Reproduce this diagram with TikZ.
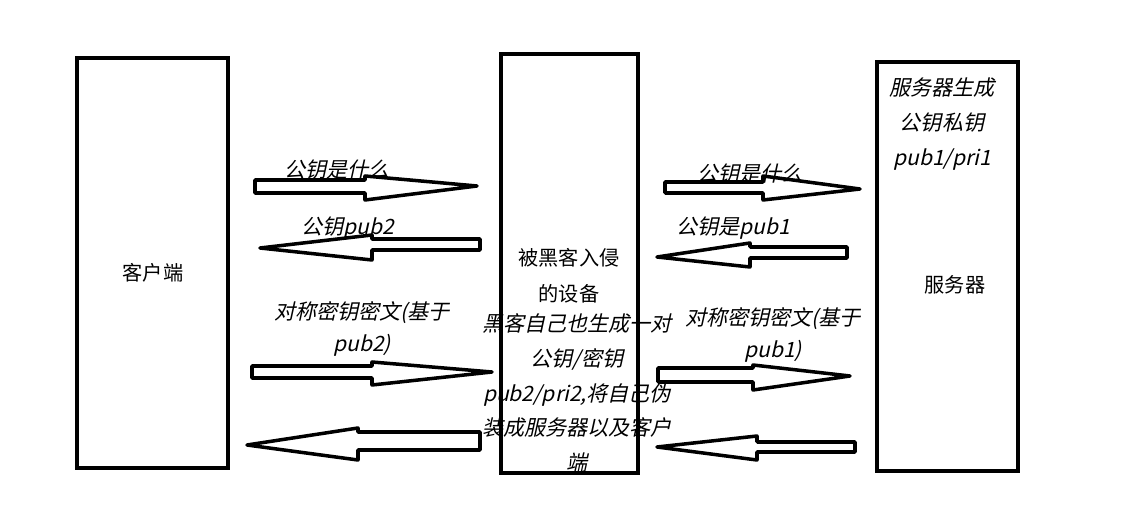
\documentclass[tikz,border=0pt]{standalone}
\usepackage{fontspec}
\setmainfont{Noto Sans CJK SC}
\newfontfamily\cjkit{Noto Sans CJK SC}[FakeSlant=0.22]

\begin{document}
\begin{tikzpicture}[x=0.02cm, y=-0.02cm,
  font=\fontsize{11.5}{20.4}\selectfont,
  box/.style={rectangle, draw, line width=2.3pt},
  fat/.style={draw, line width=2pt, line join=round, fill=white},
  lbl/.style={align=center, inner sep=0pt},
  note/.style={lbl, font=\cjkit\fontsize{12}{19.8}\selectfont},
]
  \useasboundingbox (0,0) rectangle (1137,523);
  % the three parties
  \node[box, minimum width=3.02cm, minimum height=8.2cm] (client) at (152.5,263) {};
  \node[box, minimum width=2.74cm, minimum height=8.38cm] (hacked) at (569.5,263.5) {};
  \node[box, minimum width=2.82cm, minimum height=8.18cm] (server) at (947.5,266.5) {};

  % block arrows, client <-> hacked device
  \draw[fat] (255,180) -- (365,180) -- (365,176) -- (477,186) -- (365,200) -- (365,193) -- (255,193) -- cycle;
  \draw[fat] (480,239) -- (372,239) -- (372,235) -- (260,248) -- (372,260) -- (372,250) -- (480,250) -- cycle;
  \draw[fat] (252,366) -- (372,366) -- (372,362) -- (492,372) -- (372,385) -- (372,378) -- (252,378) -- cycle;
  \draw[fat] (480,432) -- (358,432) -- (358,428) -- (247,445) -- (358,460) -- (358,450) -- (480,450) -- cycle;
  % block arrows, hacked device <-> server
  \draw[fat] (665,182) -- (763,182) -- (763,176) -- (860,189) -- (763,200) -- (763,193) -- (665,193) -- cycle;
  \draw[fat] (847,247) -- (750,247) -- (750,243) -- (657,257) -- (750,267) -- (750,258) -- (847,258) -- cycle;
  \draw[fat] (658,368) -- (753,368) -- (753,365) -- (850,376) -- (753,390) -- (753,382) -- (658,382) -- cycle;
  \draw[fat] (855,442) -- (757,442) -- (757,436) -- (657,447) -- (757,460) -- (757,452) -- (855,452) -- cycle;

  \node[lbl] (clientname) at (153,273) {客户端};
  \node[lbl] (hackedname) at (569,276) {被黑客入侵\\的设备};
  \node[lbl] (servername) at (955,285) {服务器};

  \node[note] (hacknote) at (577,393)
    {黑客自己也生成一对\\公钥/密钥\\pub2/pri2,将自己伪\\装成服务器以及客户\\端};
  \node[note] (keygen) at (942,124) {服务器生成\\公钥私钥\\pub1/pri1};

  \node[note] (ask1) at (337,170) {公钥是什么};
  \node[note] (reply1) at (348,228) {公钥pub2};
  \node[note, font=\cjkit\fontsize{12}{18}\selectfont] (sym1) at (362,329) {对称密钥密文(基于\\pub2)};
  \node[note] (ask2) at (750,174) {公钥是什么};
  \node[note] (reply2) at (733,228) {公钥是pub1};
  \node[note, font=\cjkit\fontsize{12}{18}\selectfont] (sym2) at (773,335) {对称密钥密文(基于\\pub1)};
\end{tikzpicture}
\end{document}
